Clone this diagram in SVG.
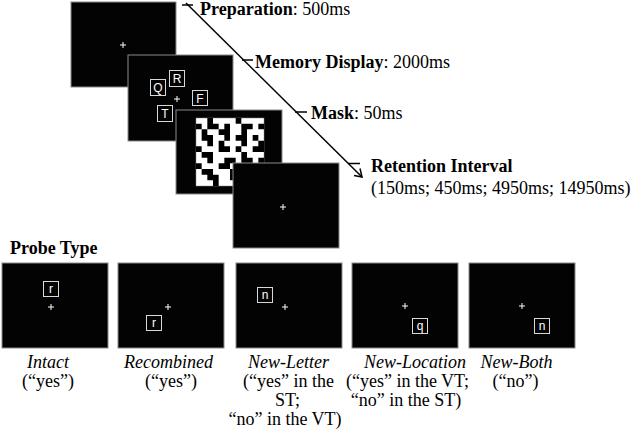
<svg xmlns="http://www.w3.org/2000/svg" width="637" height="440" viewBox="0 0 637 440">
<style>
.fr{fill:#030303;stroke:#8a8a8a;stroke-width:1}
.cx{stroke:#fff;stroke-width:1;fill:none}
.bx{fill:none;stroke:#d8d8d8;stroke-width:1}
.lt{font-family:"Liberation Sans",Arial,sans-serif;font-size:12px;fill:#fff;text-anchor:middle}
.t{font-family:"Liberation Serif","Times New Roman",serif;font-size:18px;fill:#000}
.b{font-weight:bold}
.c{text-anchor:middle}
.i{font-style:italic}
.ln{stroke:#000;stroke-width:1.5;fill:none}
</style>
<defs>
<path id="cross" class="cx" d="M-3 0h6M0-3v6"/>
</defs>
<rect width="637" height="440" fill="#fff"/>

<g id="frame-preparation">
<rect class="fr" x="71" y="2" width="105" height="85"/>
<use href="#cross" x="123" y="45"/>
</g>
<g id="frame-memory">
<rect class="fr" x="128" y="55" width="105" height="86"/>
<rect class="bx" x="150.5" y="79.5" width="15" height="16"/><text class="lt" x="158" y="92">Q</text>
<rect class="bx" x="169.5" y="70.5" width="15" height="16"/><text class="lt" x="177" y="83">R</text>
<rect class="bx" x="192.5" y="90.5" width="15" height="15"/><text class="lt" x="200" y="103">F</text>
<rect class="bx" x="157.5" y="105.5" width="15" height="16"/><text class="lt" x="165" y="118">T</text>
<use href="#cross" x="177" y="99"/>
</g>
<g id="frame-mask">
<rect class="fr" x="176" y="110" width="106" height="84"/>
<rect x="196" y="118" width="68" height="68" fill="#fff" stroke="#888" stroke-width="0.5"/>
<path fill="#000" transform="translate(196 118) scale(5.6667)" d="M2 0h1v1h-1zM7 0h1v1h-1zM0 1h1v1h-1zM2 1h2v1h-2zM5 1h1v1h-1zM8 1h2v1h-2zM11 1h1v1h-1zM1 2h1v1h-1zM4 2h2v1h-2zM8 2h1v1h-1zM1 3h2v1h-2zM5 3h1v1h-1zM7 3h2v1h-2zM10 3h1v1h-1zM2 4h1v1h-1zM4 4h1v1h-1zM8 4h1v1h-1zM11 4h1v1h-1zM0 5h1v1h-1zM4 5h2v1h-2zM7 5h1v1h-1zM10 5h2v1h-2zM1 6h2v1h-2zM8 6h1v1h-1zM2 7h1v1h-1zM5 7h2v1h-2zM8 7h2v1h-2zM11 7h1v1h-1zM0 8h1v1h-1zM4 8h2v1h-2zM1 9h2v1h-2zM6 9h1v1h-1zM9 9h1v1h-1zM2 10h2v1h-2zM6 10h2v1h-2zM10 10h1v1h-1zM3 11h1v1h-1zM7 11h1v1h-1z"/>
</g>
<g id="frame-retention">
<rect class="fr" x="233" y="163" width="106" height="85"/>
<use href="#cross" x="283" y="207"/>
</g>

<g id="connectors">
<line class="ln" x1="186" y1="3" x2="362" y2="177"/>
<polyline class="ln" points="354,175.5 362,177 360,168.5"/>
<line class="ln" x1="182" y1="5" x2="193" y2="5"/>
<line class="ln" x1="242" y1="60" x2="253" y2="60"/>
<line class="ln" x1="295" y1="112" x2="307" y2="112"/>
<line class="ln" x1="348" y1="163.5" x2="360" y2="163.5"/>
</g>

<g id="labels-top">
<text class="t" x="200" y="15"><tspan class="b">Preparation</tspan>: 500ms</text>
<text class="t" x="255" y="68"><tspan class="b">Memory Display</tspan>: 2000ms</text>
<text class="t" x="311" y="119"><tspan class="b">Mask</tspan>: 50ms</text>
<text class="t b" x="371" y="172">Retention Interval</text>
<text class="t" x="371" y="194">(150ms; 450ms; 4950ms; 14950ms)</text>
</g>

<text class="t b" x="10" y="254">Probe Type</text>

<g id="probe-intact">
<rect class="fr" x="2" y="263" width="106" height="85"/>
<rect class="bx" x="43.5" y="281.5" width="15" height="15"/><text class="lt" x="51" y="293">r</text>
<use href="#cross" x="51" y="307"/>
<text class="t i c" x="48" y="368">Intact</text>
<text class="t c" x="48" y="387">(“yes”)</text>
</g>
<g id="probe-recombined">
<rect class="fr" x="118" y="263" width="106" height="85"/>
<rect class="bx" x="146.5" y="315.5" width="15" height="15"/><text class="lt" x="154" y="327">r</text>
<use href="#cross" x="168" y="307"/>
<text class="t i c" x="168.5" y="368">Recombined</text>
<text class="t c" x="171" y="387">(“yes”)</text>
</g>
<g id="probe-new-letter">
<rect class="fr" x="236" y="263" width="106" height="85"/>
<rect class="bx" x="257.5" y="287.5" width="15" height="15"/><text class="lt" x="265" y="299">n</text>
<use href="#cross" x="285" y="307"/>
<text class="t i c" x="288.5" y="368">New-Letter</text>
<text class="t c" x="288.5" y="387">(“yes” in the</text>
<text class="t c" x="287.5" y="406">ST;</text>
<text class="t c" x="285" y="425">“no” in the VT)</text>
</g>
<g id="probe-new-location">
<rect class="fr" x="352" y="263" width="106" height="85"/>
<rect class="bx" x="412.5" y="318.5" width="15" height="15"/><text class="lt" x="420" y="330">q</text>
<use href="#cross" x="405" y="306"/>
<text class="t i c" x="415" y="368">New-Location</text>
<text class="t c" x="407.5" y="387">(“yes” in the VT;</text>
<text class="t c" x="406" y="406">“no” in the ST)</text>
</g>
<g id="probe-new-both">
<rect class="fr" x="469" y="263" width="106" height="85"/>
<rect class="bx" x="534.5" y="318.5" width="15" height="15"/><text class="lt" x="542" y="330">n</text>
<use href="#cross" x="522" y="306"/>
<text class="t i c" x="516.5" y="368">New-Both</text>
<text class="t c" x="515.5" y="387">(“no”)</text>
</g>
</svg>
